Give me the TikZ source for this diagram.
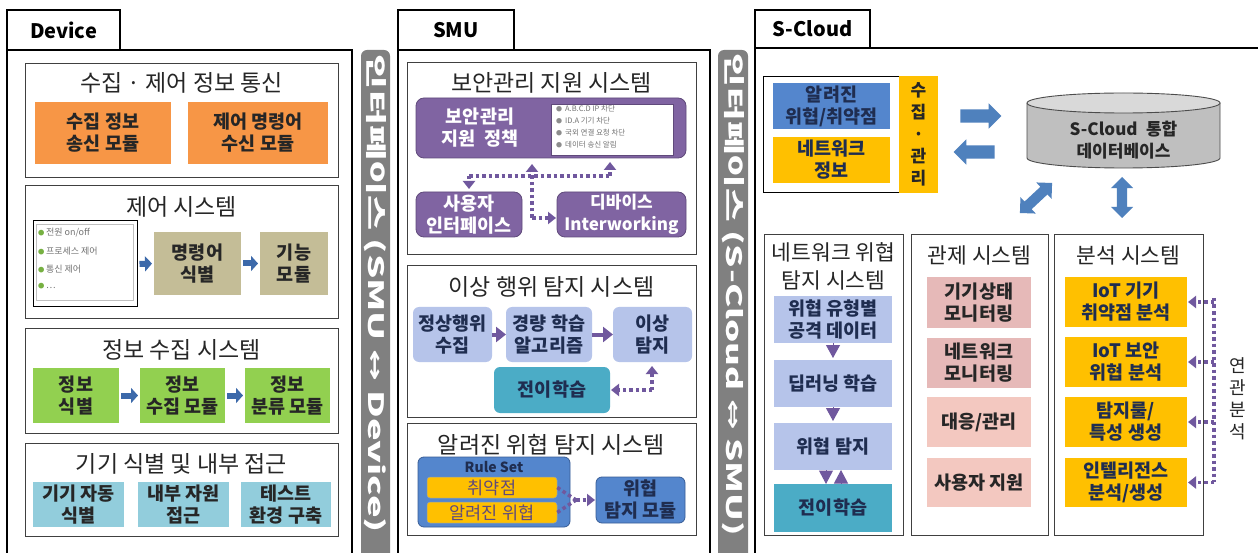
\documentclass[tikz,border=0pt]{standalone}
\usepackage{fontspec}
\usepackage{graphicx}
\setmainfont{Noto Sans CJK KR}
\newfontfamily\symfont{DejaVu Sans}
\usetikzlibrary{arrows.meta,shapes.arrows,calc}

\definecolor{cOrange}{RGB}{247,150,70}
\definecolor{cTan}{RGB}{196,189,151}
\definecolor{cGreen}{RGB}{146,208,80}
\definecolor{cLBlue}{RGB}{146,205,220}
\definecolor{cPurple}{RGB}{128,100,162}
\definecolor{cPurpleD}{RGB}{96,74,123}
\definecolor{cPeri}{RGB}{182,196,234}
\definecolor{cTeal}{RGB}{75,172,198}
\definecolor{cBlue}{RGB}{84,134,205}
\definecolor{cBlueD}{RGB}{56,93,150}
\definecolor{cYellow}{RGB}{255,192,0}
\definecolor{cPink}{RGB}{230,185,184}
\definecolor{cPinkL}{RGB}{243,200,192}
\definecolor{cBar}{RGB}{128,128,128}
\definecolor{cArrow}{RGB}{79,129,189}
\definecolor{cArrowD}{RGB}{60,105,170}
\definecolor{cDot}{RGB}{112,88,158}
\definecolor{cNavy}{RGB}{31,45,80}
\definecolor{cTxt}{RGB}{38,38,38}
\definecolor{cBulG}{RGB}{118,176,65}
\definecolor{cCylBody}{RGB}{191,191,191}
\definecolor{cCylTop}{RGB}{217,217,217}

\newcommand\mybox[7]{\node[#2, minimum width={(#5-#3)*1pt}, minimum height={(#6-#4)*1pt}] (#1) at ({(#3+#5)/2},{(#4+#6)/2}) {#7};}

\begin{document}
\begin{tikzpicture}[x=1pt,y=-1pt,
  panel/.style={draw=black, line width=2.6pt},
  tabbox/.style={draw=black, line width=2.6pt, fill=white, inner sep=0pt, font=\bfseries\fontsize{20}{22}\selectfont},
  sys/.style={draw=black!75, line width=0.9pt, fill=white, inner sep=0pt},
  ttl/.style={inner sep=0pt, font=\fontsize{23}{28}\selectfont, text=cTxt, align=center},
  sttl/.style={ttl, font=\fontsize{21.5}{28}\selectfont},
  bx/.style={inner sep=0pt, outer sep=0pt, align=center, font=\bfseries\fontsize{18.5}{22}\selectfont, text=cTxt},
  purplebox/.style={bx, fill=cPurple, draw=cPurpleD, line width=0.8pt, rounded corners=8pt, text=white},
  perbox/.style={bx, fill=cPeri, rounded corners=6pt, text=cNavy},
  litem/.style={anchor=west, inner sep=0pt, font=\fontsize{9}{10}\selectfont, text=black!55},
  sitem/.style={anchor=west, inner sep=0pt, font=\fontsize{7.5}{9}\selectfont, text=black!55},
  smallarr/.style={draw=cArrowD, line width=6pt, -{Triangle[width=15pt,length=7pt]}, shorten <=2pt, shorten >=2pt},
  triarr/.style={draw=cDot, line width=4pt, -{Triangle[width=15pt,length=10pt]}},
  tri/.style={draw=cDot, line width=1pt, -{Triangle[width=14pt,length=13pt]}},
  dotline/.style={draw=cDot, line width=3.5pt, dash pattern=on 3.5pt off 3pt},
  dotarr/.style={dotline, -{Triangle[width=12pt,length=8pt]}, shorten >=1pt},
  barbox/.style={fill=cBar, rounded corners=6pt, inner sep=0pt},
  bartext/.style={rotate=-90, text=white, inner sep=0pt},
  blockarr/.style={fill=cArrow, inner xsep=0pt, inner ysep=6.5pt, outer sep=0pt, minimum height=41pt},
  rulebox/.style={fill=cYellow, draw=cBlueD!60, line width=0.5pt, rounded corners=3pt, inner sep=0pt, font=\fontsize{17.5}{19}\selectfont, text=cPurpleD}
]
\useasboundingbox (0,0) rectangle (1258,553);
\fill[white] (0,0) rectangle (1258,553);

% ================= DEVICE =================
\draw[panel] (7,570) -- (7,50) -- (352,50) -- (352,570);
\mybox{devtab}{tabbox}{7}{10}{120}{50}{Device}

\mybox{d1}{sys}{25}{63}{338}{177}{}
\node[ttl] (d1t) at (181.5,83) {수집 · 제어 정보 통신};
\mybox{d1a}{bx,fill=cOrange}{35}{102}{171}{164}{수집 정보\\송신 모듈}
\mybox{d1b}{bx,fill=cOrange}{188}{102}{328}{164}{제어 명령어\\수신 모듈}

\mybox{d2}{sys}{25}{185}{338}{318}{}
\node[ttl] (d2t) at (181.5,207) {제어 시스템};
\mybox{d2l}{draw=black, line width=1pt, fill=white}{33}{221}{137}{307}{}
\mybox{d2li}{draw=black!25, line width=0.6pt, fill=white}{36}{224}{133}{300}{}
\node[litem] (li1) at (38,233) {\textcolor{cBulG}{\scalebox{0.7}{●}}\,전원 on/off};
\node[litem] (li2) at (38,251) {\textcolor{cBulG}{\scalebox{0.7}{●}}\,프로세스 제어};
\node[litem] (li3) at (38,269) {\textcolor{cBulG}{\scalebox{0.7}{●}}\,통신 제어};
\node[litem] (li4) at (38,286) {\textcolor{cBulG}{\scalebox{0.7}{●}}\,…};
\mybox{d2a}{bx,fill=cTan}{154}{232}{241}{295}{명령어\\식별}
\mybox{d2b}{bx,fill=cTan}{260}{232}{328}{295}{기능\\모듈}
\draw[smallarr] (d2l.east) -- (d2a.west);
\draw[smallarr] (d2a.east) -- (d2b.west);

\mybox{d3}{sys}{25}{328}{338}{433}{}
\node[ttl] (d3t) at (181.5,350) {정보 수집 시스템};
\mybox{d3a}{bx,fill=cGreen}{33}{368}{119}{423}{정보\\식별}
\mybox{d3b}{bx,fill=cGreen}{140}{368}{225}{423}{정보\\수집 모듈}
\mybox{d3c}{bx,fill=cGreen}{245}{368}{330}{423}{정보\\분류 모듈}
\draw[smallarr] (d3a.east) -- (d3b.west);
\draw[smallarr] (d3b.east) -- (d3c.west);

\mybox{d4}{sys}{25}{443}{338}{536}{}
\node[ttl] (d4t) at (181.5,464) {기기 식별 및 내부 접근};
\mybox{d4a}{bx,fill=cLBlue}{33}{482}{124}{527}{기기 자동\\식별}
\mybox{d4b}{bx,fill=cLBlue}{138}{482}{229}{527}{내부 자원\\접근}
\mybox{d4c}{bx,fill=cLBlue}{241}{482}{331}{527}{테스트\\환경 구축}

% ================= INTERFACE BARS =================
\mybox{if1}{barbox}{361}{50}{390}{575}{}
\node[bartext] (if1t) at (375.5,294) {\resizebox{478pt}{18pt}{\bfseries 인터페이스 (SMU {\symfont\bfseries ↔} Device)}};
\mybox{if2}{barbox}{718}{50}{748}{575}{}
\node[bartext] (if2t) at (733,295) {\resizebox{482pt}{18pt}{\bfseries 인터페이스 (S-Cloud {\symfont\bfseries ⇔} SMU)}};

% ================= SMU =================
\draw[panel] (398,570) -- (398,50) -- (710,50) -- (710,570);
\mybox{smutab}{tabbox}{398}{10}{514}{50}{SMU}

\mybox{s1}{sys}{407}{62}{696}{254}{}
\node[ttl] (s1t) at (551.5,83) {보안관리 지원 시스템};
\mybox{pol}{purplebox}{416}{98}{686}{158}{}
\node[bx, text=white] (polt) at (480,128) {보안관리\\지원\enspace 정책};
\mybox{pollist}{fill=white, draw=cPurpleD, line width=0.5pt}{551}{104}{673}{155}{}
\node[sitem] (pi1) at (556,109) {\textcolor{black!45}{\scalebox{0.8}{●}}\, A.B.C.D IP 차단};
\node[sitem] (pi2) at (556,121) {\textcolor{black!45}{\scalebox{0.8}{●}}\, ID.A 기기 차단};
\node[sitem] (pi3) at (556,133) {\textcolor{black!45}{\scalebox{0.8}{●}}\, 국외 연결 요청 차단};
\node[sitem] (pi4) at (556,145) {\textcolor{black!45}{\scalebox{0.8}{●}}\, 데이터 송신 알림};
\mybox{ui}{purplebox}{416}{192}{522}{237}{사용자\\인터페이스}
\mybox{dev}{purplebox, font=\bfseries\fontsize{17}{22}\selectfont}{557}{192}{686}{237}{디바이스\\Interworking}
\coordinate (hL) at (469,176);
\coordinate (hR) at (610,176);
\coordinate (vM) at (532,218);
\draw[dotline] (hL) -- (hR);
\draw[dotarr, shorten >=3pt] (hL) -- (ui.north);
\draw[dotarr, shorten >=4pt] (hR) -- (hR |- pol.south);
\draw[dotarr, shorten >=6pt] (vM) -- (vM |- pol.south);
\draw[dotarr] (vM) -- (dev.west |- vM);

\mybox{s2}{sys}{407}{265}{696}{417}{}
\node[ttl] (s2t) at (551.5,287) {이상 행위 탐지 시스템};
\mybox{a1}{perbox}{413}{307}{492}{362}{정상행위\\수집}
\mybox{a2}{perbox}{506}{307}{592}{362}{경량 학습\\알고리즘}
\mybox{a3}{perbox}{613}{307}{692}{362}{이상\\탐지}
\mybox{tl}{bx, fill=cTeal, rounded corners=6pt, text=cNavy}{494}{367}{610}{413}{전이학습}
\draw[triarr] (a1.east) -- (a2.west);
\draw[triarr] (a2.east) -- (a3.west);
\coordinate (c1) at (652,390);
\draw[dotarr, shorten >=4pt] (c1) -- (c1 |- a3.south);
\draw[dotarr] (c1) -- (tl.east);

\mybox{s3}{sys}{407}{423}{696}{535}{}
\node[ttl] (s3t) at (551.5,445) {알려진 위협 탐지 시스템};
\mybox{rs}{fill=cBlue, draw=cBlueD, line width=0.8pt, rounded corners=6pt}{418}{457}{570}{527}{}
\node[inner sep=0pt, font=\bfseries\fontsize{14}{16}\selectfont, text=cNavy] (rst) at (494,467) {Rule Set};
\mybox{r1}{rulebox}{427}{477}{557}{498}{취약점}
\mybox{r2}{rulebox}{427}{502}{557}{523}{알려진 위협}
\mybox{wm}{bx, fill=cBlue, draw=cBlueD, line width=0.8pt, rounded corners=6pt, text=cNavy}{596}{477}{685}{523}{위협\\탐지 모듈}
\coordinate (rm) at (576,500);
\draw[dotline] (r1.east) -- (rm);
\draw[dotline] (r2.east) -- (rm);
\draw[dotarr] (rm) -- (wm.west);

% ================= S-CLOUD =================
\draw[panel] (755,570) -- (755,48) -- (1270,48);
\mybox{sctab}{tabbox}{755}{10}{870}{48}{S-Cloud}

\mybox{kf}{draw=black, line width=1pt, fill=white}{763}{77}{899}{193}{}
\mybox{kb}{bx, fill=cBlue, text=cNavy}{773}{83}{890}{129}{알려진\\위협/취약점}
\mybox{ni}{bx, fill=cYellow, text=cNavy}{773}{137}{890}{183}{네트워크\\정보}
\mybox{sg}{bx, fill=cYellow, font=\bfseries\fontsize{17}{22}\selectfont}{899}{76}{938}{193}{수\\집\\·\\관\\리}

\node[single arrow, blockarr, single arrow head extend=6pt] (ar1) at (977.5,116) {};
\node[single arrow, blockarr, single arrow head extend=6pt, shape border rotate=180] (ar2) at (977.5,152) {};

% cylinder
\fill[cCylBody] (1027,103) -- (1027,158) arc[start angle=180, end angle=0, x radius=96.5, y radius=10] -- (1220,103) -- cycle;
\draw[black!70, line width=0.9pt] (1027,103) -- (1027,158) arc[start angle=180, end angle=0, x radius=96.5, y radius=10] -- (1220,103);
\draw[black!70, line width=0.9pt, fill=cCylTop] (1123.5,103) ellipse [x radius=96.5, y radius=10];
\node[bx, font=\bfseries\fontsize{17}{22}\selectfont] (db) at (1123.5,140) {S-Cloud\enspace 통합\\데이터베이스};

\node[double arrow, fill=cArrow, inner xsep=0pt, inner ysep=5pt, double arrow head extend=6pt, minimum height=44pt, rotate=43] (da1) at (1036,198) {};
\node[double arrow, fill=cArrow, inner xsep=0pt, inner ysep=5pt, double arrow head extend=6pt, minimum height=41pt, rotate=90] (da2) at (1122,197.5) {};

% network threat detection
\mybox{c1}{sys}{764}{234}{903}{535}{}
\node[sttl] (c1t) at (833.5,266) {네트워크 위협\\탐지 시스템};
\mybox{n1}{bx, fill=cPeri, text=cNavy}{774}{296}{892}{343}{위협 유형별\\공격 데이터}
\mybox{n2}{bx, fill=cPeri, text=cNavy}{774}{360}{892}{407}{딥러닝 학습}
\mybox{n3}{bx, fill=cPeri, text=cNavy}{774}{423}{892}{470}{위협 탐지}
\mybox{n4}{bx, fill=cTeal, text=cNavy}{774}{484}{892}{532}{전이학습}
\draw[tri, shorten >=2pt] (n1.south) -- (n2.north);
\draw[tri, shorten >=2pt] (n2.south) -- (n3.north);
\draw[tri, -{Triangle[width=14pt,length=13.5pt]}] ([xshift=-7pt]n3.south) -- ([xshift=-7pt]n4.north);
\draw[tri, -{Triangle[width=14pt,length=13.5pt]}] ([xshift=8pt]n4.north) -- ([xshift=8pt]n3.south);

% monitoring
\mybox{c2}{sys}{911}{234}{1048}{535}{}
\node[sttl] (c2t) at (979.5,255) {관제 시스템};
\mybox{p1}{bx, fill=cPink}{927}{277}{1031}{328}{기기상태\\모니터링}
\mybox{p2}{bx, fill=cPink}{927}{338}{1031}{388}{네트워크\\모니터링}
\mybox{p3}{bx, fill=cPinkL}{927}{397}{1031}{447}{대응/관리}
\mybox{p4}{bx, fill=cPinkL}{927}{458}{1031}{507}{사용자 지원}

% analysis
\mybox{c3}{sys}{1054}{234}{1203}{535}{}
\node[sttl] (c3t) at (1128.5,255) {분석 시스템};
\mybox{y1}{bx, fill=cYellow, text=cNavy}{1065}{277}{1187}{327}{IoT 기기\\취약점 분석}
\mybox{y2}{bx, fill=cYellow, text=cNavy}{1065}{337}{1187}{387}{IoT 보안\\위협 분석}
\mybox{y3}{bx, fill=cYellow, text=cNavy}{1065}{397}{1187}{447}{탐지룰/\\특성 생성}
\mybox{y4}{bx, fill=cYellow, text=cNavy}{1065}{458}{1187}{507}{인텔리전스\\분석/생성}
\coordinate (vt) at (1214,298);
\coordinate (vb) at (1214,482);
\draw[dotline] (vt) -- (vb);
\foreach \n in {y1,y2,y3,y4} \draw[dotarr] (\n.east -| vt) -- (\n.east);
\node[inner sep=0pt, align=center, font=\fontsize{18}{22}\selectfont, text=cTxt] (rel) at (1238,399) {연\\관\\분\\석};
\end{tikzpicture}
\end{document}
